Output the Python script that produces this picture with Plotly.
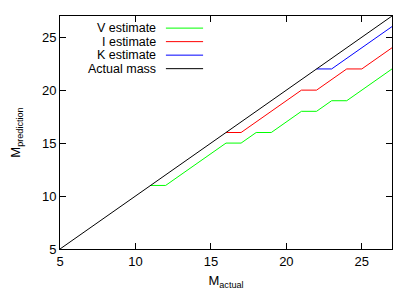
import plotly.graph_objects as go

# Data
v_x = [11, 12, 16, 17, 18, 19, 21, 22, 23, 24, 27]
v_y = [11, 11, 15, 15, 16, 16, 18, 18, 19, 19, 22]
i_x = [16, 17, 21, 22, 24, 25, 27]
i_y = [16, 16, 20, 20, 22, 22, 24]
k_x = [22, 23, 27]
k_y = [22, 22, 26]
act_x = [5, 27]
act_y = [5, 27]

series = [
    ("V estimate", v_x, v_y, "#00ff00"),
    ("I estimate", i_x, i_y, "#ff0000"),
    ("K estimate", k_x, k_y, "#0000ff"),
    ("Actual mass", act_x, act_y, "#000000"),
]

x_ticks = [5, 10, 15, 20, 25]
y_ticks = [5, 10, 15, 20, 25]

fig = go.Figure()
for name, xs, ys, col in series:
    fig.add_trace(go.Scatter(x=xs, y=ys, mode="lines", name=name,
                             line=dict(color=col, width=1), showlegend=False))

# gnuplot-style legend: right-aligned text, line sample to the right
font = dict(family="Liberation Sans, Arial, sans-serif", size=13, color="#000000")
leg_font = dict(family="Liberation Sans, Arial, sans-serif", size=12.5, color="#000000")
for i, (name, xs, ys, col) in enumerate(series):
    yp = 0.948 - i * 0.058
    fig.add_annotation(x=0.292, y=yp, xref="paper", yref="paper", text=name,
                       showarrow=False, xanchor="right", yanchor="middle",
                       borderpad=0, font=leg_font)
    fig.add_shape(type="line", xref="paper", yref="paper", x0=0.319, x1=0.431,
                  y0=yp, y1=yp, line=dict(color=col, width=1))

axis_common = dict(showline=True, linecolor="#000000", linewidth=1, mirror="ticks",
                   ticks="inside", ticklen=6, tickcolor="#000000", showgrid=False,
                   zeroline=False, tickfont=font, automargin=False)

fig.update_layout(
    width=415, height=290,
    margin=dict(l=60, r=23, t=16, b=41),
    paper_bgcolor="white", plot_bgcolor="white",
    font=font,
    xaxis=dict(range=[5, 27], tickvals=x_ticks, title=dict(text="M<sub>actual</sub>", font=font, standoff=13), **axis_common),
    yaxis=dict(range=[5, 27], tickvals=y_ticks, title=dict(text="M<sub>prediction</sub>", font=font, standoff=18), **axis_common),
)

fig.write_html("out.html", config={"displayModeBar": False},
               post_script="document.body.style.margin='0';document.body.style.padding='0';")
